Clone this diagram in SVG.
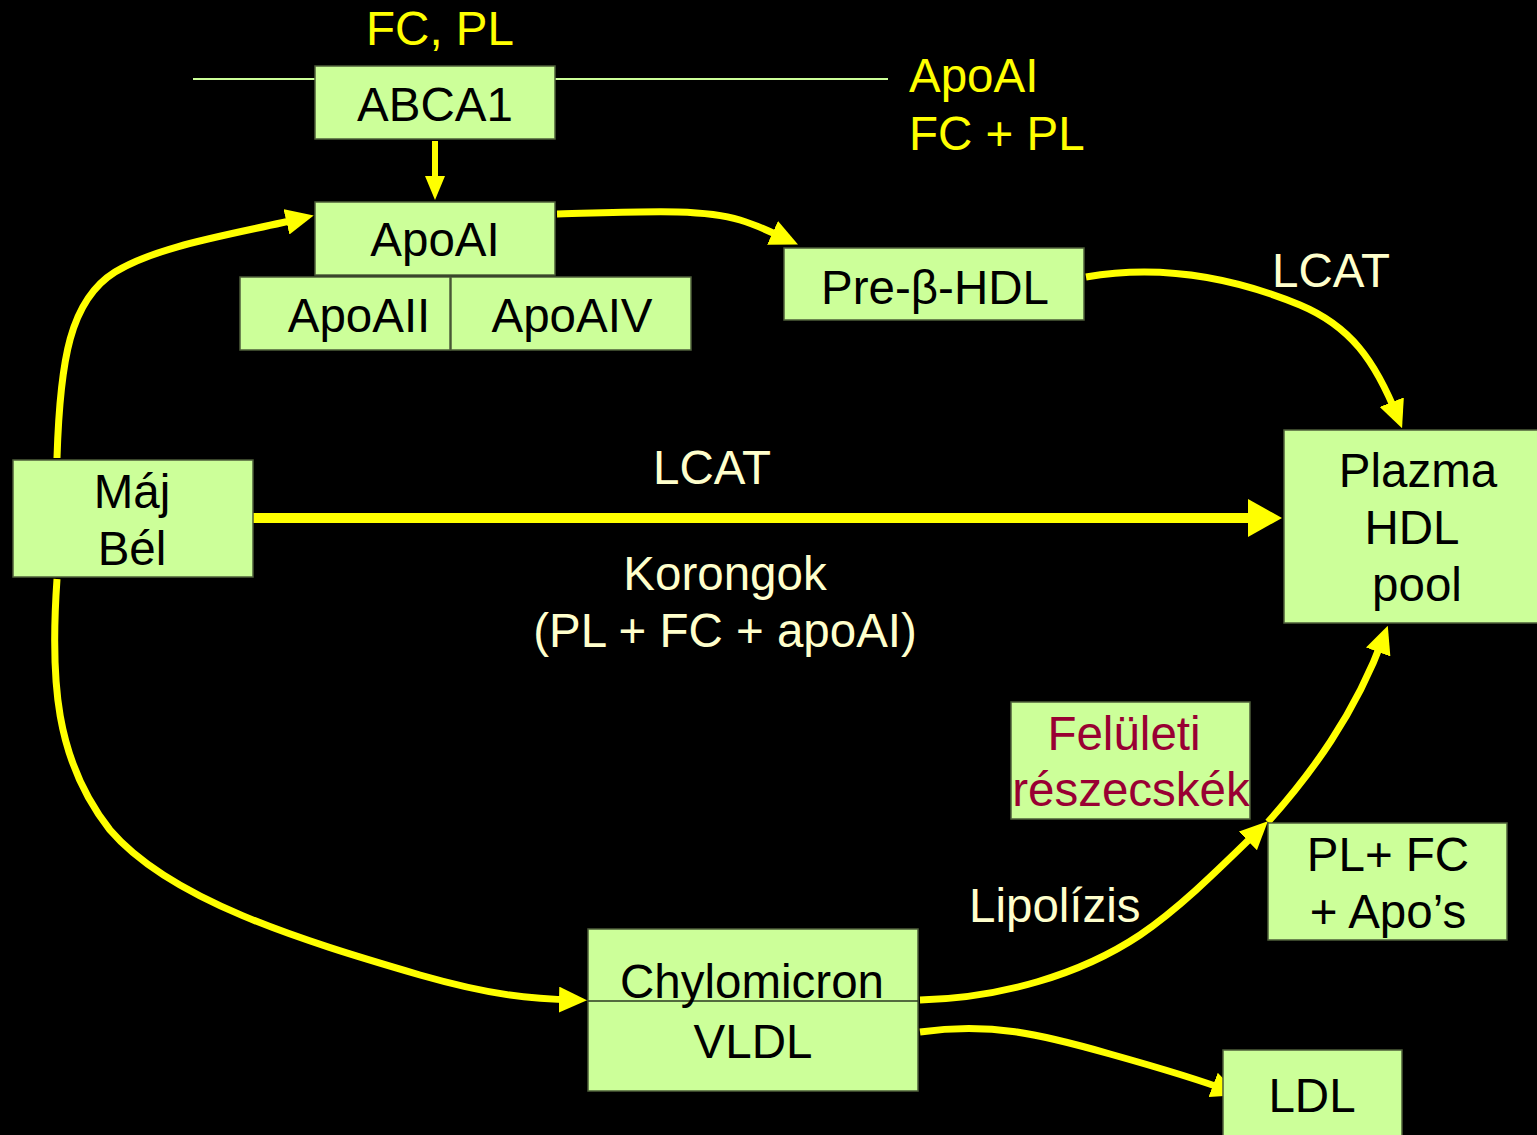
<svg xmlns="http://www.w3.org/2000/svg" width="1537" height="1135" viewBox="0 0 1537 1135">
<style>
.box{fill:#CCFF99;stroke:#4d5e3a;stroke-width:1.5}
.t{font-family:"Liberation Sans",Arial,sans-serif;font-size:47.5px;text-anchor:middle;fill:#000}
.y{fill:#FFFF00}
.c{fill:#FFFFCC}
.r{fill:#990033}
.ln{fill:none;stroke:#FFFF00;stroke-width:7}
</style>
<defs>
<marker id="ah" viewBox="0 0 28 26" refX="17" refY="13" markerWidth="28" markerHeight="26" markerUnits="userSpaceOnUse" orient="auto"><path d="M0,0 L28,13 L0,26 z" fill="#FFFF00"/></marker>
<marker id="ahs" viewBox="0 0 24 20" refX="6" refY="10" markerWidth="24" markerHeight="20" markerUnits="userSpaceOnUse" orient="auto"><path d="M0,0 L24,10 L0,20 z" fill="#FFFF00"/></marker>
<marker id="ahb" viewBox="0 0 34 38" refX="4" refY="19" markerWidth="34" markerHeight="38" markerUnits="userSpaceOnUse" orient="auto"><path d="M0,0 L34,19 L0,38 z" fill="#FFFF00"/></marker>
</defs>
<rect width="1537" height="1135" fill="#000"/>
<line x1="193" y1="79" x2="888" y2="79" stroke="#CCFF99" stroke-width="2"/>
<text class="t y" x="440" y="45">FC, PL</text>
<text class="t y" x="909" y="92" style="text-anchor:start">ApoAI</text>
<text class="t y" x="909" y="150" style="text-anchor:start">FC + PL</text>
<text class="t c" x="1272" y="287" style="text-anchor:start">LCAT</text>
<text class="t c" x="712" y="484">LCAT</text>
<text class="t c" x="725" y="590">Korongok</text>
<text class="t c" x="725" y="647">(PL + FC + apoAI)</text>
<text class="t c" x="969" y="922" style="text-anchor:start">Lipolízis</text>
<g id="connectors">
<line x1="435" y1="141" x2="435" y2="182" stroke="#FFFF00" stroke-width="6" marker-end="url(#ahs)"/>
<path class="ln" d="M57,458 C 60,360 70,300 115,272 C 160,245 230,235 303,218" marker-end="url(#ah)"/>
<path class="ln" d="M557,214 C 640,212 700,208 740,220 C 760,226 775,234 788,240" marker-end="url(#ah)"/>
<path class="ln" d="M1086,277 C 1150,266 1220,272 1300,305 C 1350,326 1375,360 1398,418" marker-end="url(#ah)"/>
<line x1="253" y1="518" x2="1252" y2="518" stroke="#FFFF00" stroke-width="10" marker-end="url(#ahb)"/>
<path class="ln" d="M57,579 C 50,680 55,760 110,830 C 170,900 300,940 420,975 C 490,995 530,999 576,1000" marker-end="url(#ah)"/>
<path class="ln" d="M920,1000 C 1000,998 1080,975 1140,935 C 1180,908 1220,868 1260,829" marker-end="url(#ah)"/>
<path class="ln" d="M1268,822 C 1310,775 1355,715 1384,636" marker-end="url(#ah)"/>
<path class="ln" d="M920,1032 C 990,1022 1040,1034 1110,1054 C 1160,1068 1195,1078 1229,1091" marker-end="url(#ah)"/>
</g>
<g id="abca1"><rect class="box" x="315" y="66" width="240" height="73"/><text class="t" x="435" y="121">ABCA1</text></g>
<g id="apoai"><rect class="box" x="315" y="202" width="240" height="73"/><text class="t" x="435" y="256">ApoAI</text></g>
<g id="apoaii"><rect class="box" x="240" y="277" width="210" height="73"/><text class="t" x="359" y="332">ApoAII</text></g>
<g id="apoaiv"><rect class="box" x="451" y="277" width="240" height="73"/><text class="t" x="572" y="332">ApoAIV</text></g>
<g id="prebeta"><rect class="box" x="784" y="248" width="300" height="72"/><text class="t" x="935" y="304">Pre-β-HDL</text></g>
<g id="plazma"><rect class="box" x="1284" y="430" width="260" height="193"/><text class="t" x="1418" y="487">Plazma</text><text class="t" x="1412" y="544">HDL</text><text class="t" x="1417" y="601">pool</text></g>
<g id="maj"><rect class="box" x="13" y="460" width="240" height="117"/><text class="t" x="132" y="508">Máj</text><text class="t" x="132" y="565">Bél</text></g>
<g id="feluleti"><rect class="box" x="1011" y="702" width="239" height="117"/><text class="t r" x="1124" y="750">Felületi</text><text class="t r" x="1131" y="806">részecskék</text></g>
<g id="plfc"><rect class="box" x="1268" y="823" width="239" height="117"/><text class="t" x="1388" y="871">PL+ FC</text><text class="t" x="1388" y="928">+ Apo’s</text></g>
<g id="chylo"><rect class="box" x="588" y="929" width="330" height="162"/><line x1="588" y1="1001" x2="918" y2="1001" stroke="#2b3a20" stroke-width="1.5"/><text class="t" x="752" y="998">Chylomicron</text><text class="t" x="753" y="1058">VLDL</text></g>
<g id="ldl"><rect class="box" x="1223" y="1050" width="179" height="90"/><text class="t" x="1312" y="1112">LDL</text></g>
</svg>
